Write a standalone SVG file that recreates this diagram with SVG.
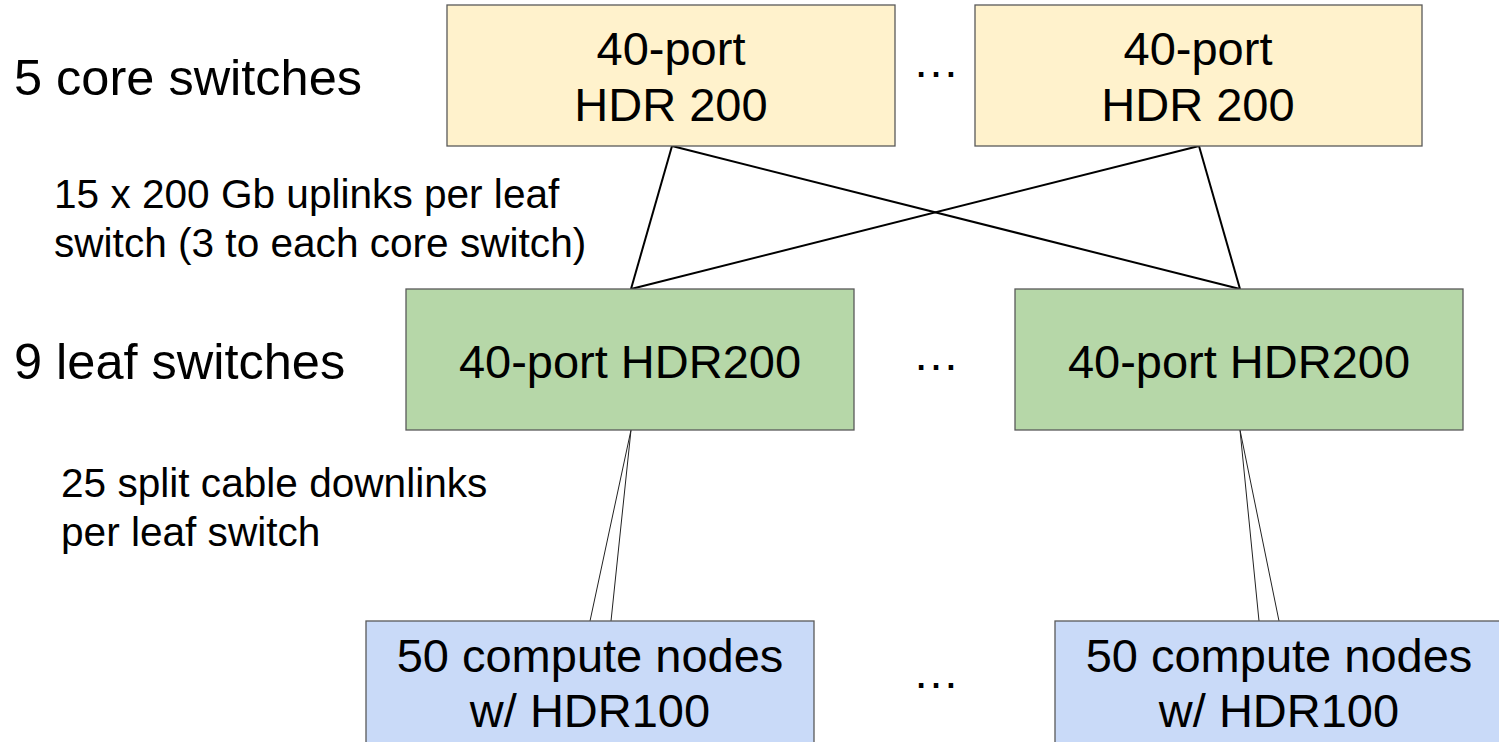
<svg xmlns="http://www.w3.org/2000/svg" width="1499" height="742" viewBox="0 0 1499 742">
  <style>
    .label { font-family: "Liberation Sans", Arial, sans-serif; fill: #000; }
    .tier { font-size: 50.5px; }
    .note { font-size: 40.6px; }
    .boxtext { font-size: 47px; text-anchor: middle; }
    .dots { font-size: 47px; text-anchor: middle; }
    .box { stroke: #595959; stroke-width: 1.3; }
    .core { fill: #fff2cc; }
    .leaf { fill: #b6d7a8; }
    .compute { fill: #c9daf8; }
    .uplink { stroke: #000; stroke-width: 2; fill: none; }
    .downlink { stroke: #222; stroke-width: 1; fill: none; }
  </style>

  <rect width="1499" height="742" fill="#ffffff"/>

  <!-- tier captions -->
  <text class="label tier" x="14" y="95">5 core switches</text>
  <text class="label note" x="54" y="208">15 x 200 Gb uplinks per leaf</text>
  <text class="label note" x="54" y="257">switch (3 to each core switch)</text>
  <text class="label tier" x="14" y="379">9 leaf switches</text>
  <text class="label note" x="61" y="497">25 split cable downlinks</text>
  <text class="label note" x="61" y="546">per leaf switch</text>

  <!-- links between tiers -->
  <g id="connectors">
    <line class="uplink" x1="672" y1="146" x2="631" y2="289"/>
    <line class="uplink" x1="672" y1="146" x2="1240" y2="289"/>
    <line class="uplink" x1="1199" y1="146" x2="631" y2="289"/>
    <line class="uplink" x1="1199" y1="146" x2="1240" y2="289"/>
    <line class="downlink" x1="631" y1="430" x2="590" y2="621"/>
    <line class="downlink" x1="631" y1="430" x2="611" y2="621"/>
    <line class="downlink" x1="1240" y1="430" x2="1259" y2="621"/>
    <line class="downlink" x1="1240" y1="430" x2="1279" y2="621"/>
  </g>

  <!-- core tier -->
  <g id="core-1">
    <rect class="box core" x="447" y="5" width="448" height="141"/>
    <text class="label boxtext" x="671" y="65">40-port</text>
    <text class="label boxtext" x="671" y="121">HDR 200</text>
  </g>
  <g id="core-dots">
    <text class="label dots" x="936" y="77">…</text>
  </g>
  <g id="core-5">
    <rect class="box core" x="975" y="5" width="447" height="141"/>
    <text class="label boxtext" x="1198" y="65">40-port</text>
    <text class="label boxtext" x="1198" y="121">HDR 200</text>
  </g>

  <!-- leaf tier -->
  <g id="leaf-1">
    <rect class="box leaf" x="406" y="289" width="448" height="141"/>
    <text class="label boxtext" x="630" y="378">40-port HDR200</text>
  </g>
  <g id="leaf-dots">
    <text class="label dots" x="936" y="370">…</text>
  </g>
  <g id="leaf-9">
    <rect class="box leaf" x="1015" y="289" width="448" height="141"/>
    <text class="label boxtext" x="1239" y="378">40-port HDR200</text>
  </g>

  <!-- compute tier -->
  <g id="compute-1">
    <rect class="box compute" x="366" y="621" width="448" height="140"/>
    <text class="label boxtext" x="590" y="672">50 compute nodes</text>
    <text class="label boxtext" x="590" y="727">w/ HDR100</text>
  </g>
  <g id="compute-dots">
    <text class="label dots" x="936" y="688">…</text>
  </g>
  <g id="compute-9">
    <rect class="box compute" x="1055" y="621" width="448" height="140"/>
    <text class="label boxtext" x="1279" y="672">50 compute nodes</text>
    <text class="label boxtext" x="1279" y="727">w/ HDR100</text>
  </g>
</svg>
